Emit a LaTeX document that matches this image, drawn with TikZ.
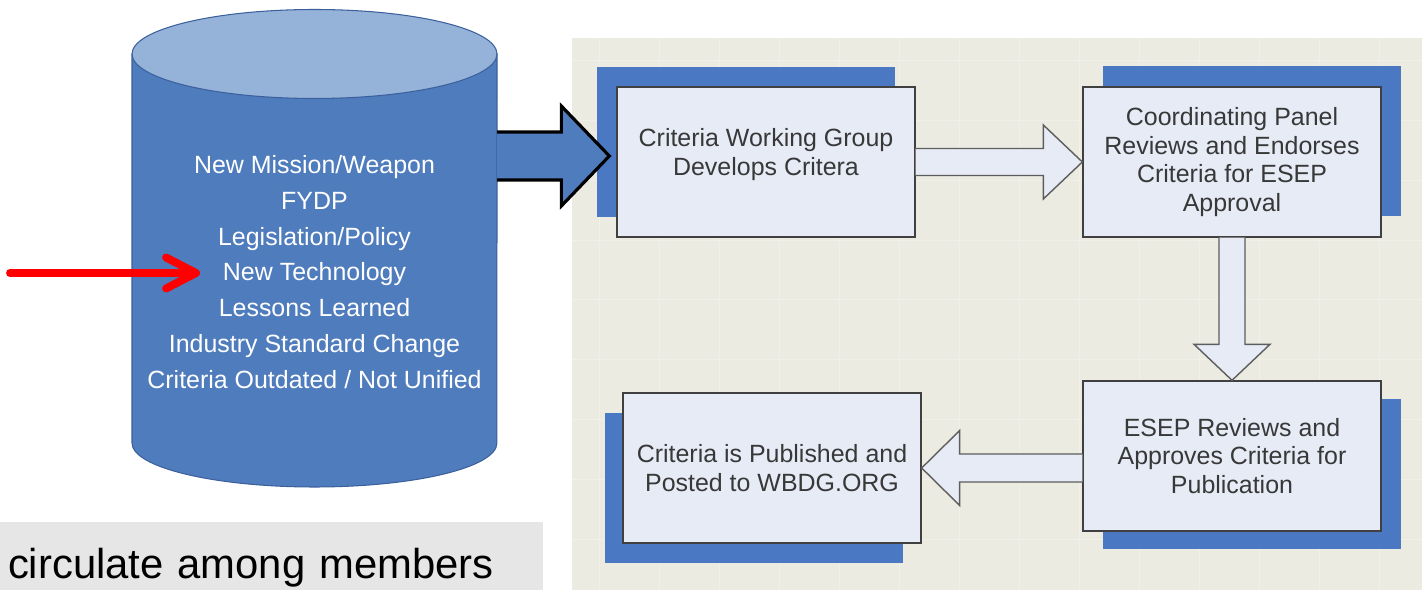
\documentclass[tikz,border=0pt]{standalone}
\usepackage{fontspec}
\setmainfont{Liberation Sans}
\usetikzlibrary{calc,shadows,arrows.meta}

\definecolor{panelBg}{HTML}{EBEBE1}
\definecolor{panelLine}{HTML}{F0F0E8}
\definecolor{boxFill}{HTML}{E6EBF6}
\definecolor{boxEdge}{HTML}{404040}
\definecolor{shadowBlue}{HTML}{4A78C2}
\definecolor{cylBody}{HTML}{4F7CBD}
\definecolor{cylTop}{HTML}{95B2D9}
\definecolor{cylEdge}{HTML}{3B609C}
\definecolor{noteGray}{HTML}{E6E6E6}

\tikzstyle{processBox}=[draw=boxEdge,fill=boxFill,line width=0.8pt,minimum width=5.96cm,minimum height=3cm,inner sep=2pt,align=center,text=black!78,font=\fontsize{14.2}{16.2}\selectfont]
\tikzstyle{hollowArrow}=[draw=boxEdge!85,fill=boxFill,line width=0.8pt,line join=miter]
\tikzstyle{bigArrow}=[draw=black,fill=cylBody,line width=1.8pt,line join=miter]
\tikzstyle{sourceText}=[align=center,text=white,font=\fontsize{14.2}{20.4}\selectfont]
\tikzstyle{markArrow}=[draw=red,line width=4.5pt,line cap=round,-{Straight Barb[length=0.6cm,width=0.62cm,round]}]
\tikzstyle{noteBox}=[fill=noteGray,text width=10.54cm,inner xsep=0.16cm,minimum height=1.84cm,align=left,font=\fontsize{23.8}{28}\selectfont]

\begin{document}
\begin{tikzpicture}[x=0.02cm,y=-0.02cm]
		\useasboundingbox (0,0) rectangle (1422,590);
		\fill[panelBg] (572,38) rectangle (1422,590);
		\draw[panelLine,line width=0.5pt,step=1.2cm] (572,38) grid (1422,590);
		
		\fill[cylBody,draw=cylEdge,line width=0.6pt] (132,54) -- (132,443) arc[start angle=180,end angle=360,x radius=3.65cm,y radius=0.88cm] -- (497,54) -- cycle;
		\fill[cylTop,draw=cylEdge,line width=0.6pt] (314.5,54) ellipse[x radius=3.65cm,y radius=0.89cm];
		\node[sourceText] (src) at (314.5,272) {New Mission/Weapon\\FYDP\\Legislation/Policy\\New Technology\\Lessons Learned\\Industry Standard Change\\Criteria Outdated / Not Unified};
		
		\node[processBox,text depth=0.4cm,drop shadow={shadow xshift=-0.4cm,shadow yshift=0.4cm,fill=shadowBlue,opacity=1}] (develop) at (766,162) {Criteria Working Group\\Develops Critera};
		\node[processBox,drop shadow={shadow xshift=0.4cm,shadow yshift=0.42cm,fill=shadowBlue,opacity=1}] (panel) at (1232,162) {Coordinating Panel\\Reviews and Endorses\\Criteria for ESEP\\Approval};
		\node[processBox,drop shadow={shadow xshift=0.4cm,shadow yshift=-0.36cm,fill=shadowBlue,opacity=1}] (esep) at (1232,456) {ESEP Reviews and\\Approves Criteria for\\Publication};
		\node[processBox,drop shadow={shadow xshift=-0.36cm,shadow yshift=-0.4cm,fill=shadowBlue,opacity=1}] (publish) at (772,468) {Criteria is Published and\\Posted to WBDG.ORG};
		
		\coordinate (cylOut) at (497,156);
		\coordinate (bigTip) at ($(cylOut -| develop.west)+(-7,0)$);
		\draw[bigArrow] ($(cylOut)+(0,-24)$) -- ($(bigTip)+(-48,-24)$) -- ($(bigTip)+(-48,-50)$) -- (bigTip) -- ($(bigTip)+(-48,50)$) -- ($(bigTip)+(-48,24)$) -- ($(cylOut)+(0,24)$);
		
		\draw[hollowArrow] ($(develop.east)+(0,-13.5)$) -- ($(panel.west)+(-39,-13.5)$) -- ($(panel.west)+(-39,-37)$) -- (panel.west) -- ($(panel.west)+(-39,37)$) -- ($(panel.west)+(-39,13.5)$) -- ($(develop.east)+(0,13.5)$);
		\draw[hollowArrow] ($(panel.south)+(-13,0)$) -- ($(esep.north)+(-13,-36)$) -- ($(esep.north)+(-38,-36)$) -- (esep.north) -- ($(esep.north)+(38,-36)$) -- ($(esep.north)+(13,-36)$) -- ($(panel.south)+(13,0)$);
		\coordinate (esepOut) at (esep.west |- publish.east);
		\draw[hollowArrow] ($(esepOut)+(0,-14)$) -- ($(publish.east)+(38,-14)$) -- ($(publish.east)+(38,-37.5)$) -- (publish.east) -- ($(publish.east)+(38,37.5)$) -- ($(publish.east)+(38,14)$) -- ($(esepOut)+(0,14)$);
		
		\coordinate (markStart) at (10,273);
		\coordinate (markTip) at (200,273);
		\draw[markArrow] (markStart) -- (markTip);
		
		\node[noteBox] (note) at (271.5,568) {circulate among members};
\end{tikzpicture}
\end{document}
